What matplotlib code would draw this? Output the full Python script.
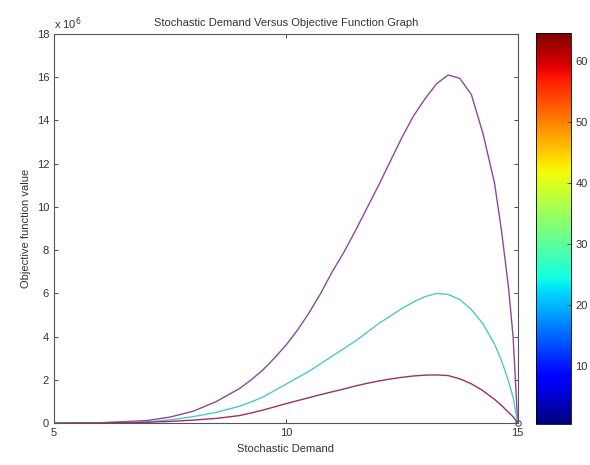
import matplotlib
matplotlib.use("Agg")
import matplotlib.pyplot as plt

plt.rcParams["font.family"] = ["Liberation Sans", "DejaVu Sans"]
plt.rcParams["font.size"] = 8

# stochastic demand (x) and objective values in units of 1e6
demand = [5, 6, 7, 7.5, 8, 8.5,
          9, 9.25, 9.5, 9.75, 10, 10.25, 10.5, 10.75, 11, 11.25, 11.5, 11.75,
          12, 12.25, 12.5, 12.75, 13,
          13.25, 13.5, 13.75, 14, 14.25, 14.5, 14.65, 14.8, 14.9, 15]
obj_high = [0.0, 0.02, 0.12, 0.28, 0.55, 1.0,
            1.6, 2.0, 2.45, 3.0, 3.6, 4.3, 5.1, 6.0, 7.0, 7.9, 8.9, 9.95,
            11.0, 12.1, 13.2, 14.2, 15.0,
            15.7, 16.1, 15.95, 15.2, 13.4, 11.1, 8.9, 6.3, 4.0, 0.0]
obj_mid = [0.0, 0.01, 0.06, 0.15, 0.3, 0.5,
           0.78, 0.98, 1.2, 1.5, 1.8, 2.1, 2.4, 2.75, 3.1, 3.45, 3.8, 4.2,
           4.6, 4.95, 5.3, 5.6, 5.85,
           6.0, 5.95, 5.72, 5.25, 4.6, 3.65, 2.9, 1.95, 1.2, 0.0]
obj_low = [0.0, 0.01, 0.04, 0.08, 0.14, 0.22,
           0.35, 0.47, 0.6, 0.75, 0.9, 1.04, 1.18, 1.32, 1.45, 1.58, 1.72, 1.84,
           1.95, 2.04, 2.12, 2.18, 2.22,
           2.23, 2.2, 2.05, 1.82, 1.5, 1.1, 0.82, 0.5, 0.3, 0.0]

fig = plt.figure(figsize=(5.9, 4.65), dpi=100)
ax = fig.add_axes([0.0915, 0.090, 0.786, 0.837])

ax.plot(demand, obj_high, color="#8a4a9a", lw=1.0)
ax.plot(demand, obj_mid, color="#50c8c8", lw=1.0)
ax.plot(demand, obj_low, color="#a03060", lw=1.0)
ax.plot([15], [0], marker="o", ms=4, mfc="none", mec="#555555", mew=0.8, clip_on=False)

ax.set_xlim(5, 15)
ax.set_ylim(0, 18)
ax.set_xticks([5, 10, 15])
ax.set_yticks(range(0, 19, 2))
ax.tick_params(direction="in", top=True, right=True, length=3, width=0.6, colors="#333333")
for s in ax.spines.values():
    s.set_linewidth(0.8)
    s.set_color("#555555")

ax.set_title("Stochastic Demand Versus Objective Function Graph", fontsize=8, color="#333333")
ax.set_xlabel("Stochastic Demand", color="#333333")
ax.set_ylabel("Objective function value", color="#333333")
ax.text(0.0, 1.005, r"x 10$^{6}$", transform=ax.transAxes, fontsize=8, color="#333333",
        ha="left", va="bottom")

cax = fig.add_axes([0.908, 0.088, 0.059, 0.841])
sm = matplotlib.cm.ScalarMappable(cmap="jet", norm=matplotlib.colors.Normalize(0.5, 64.5))
cb = fig.colorbar(sm, cax=cax, ticks=[10, 20, 30, 40, 50, 60])
cb.ax.tick_params(direction="in", length=3, width=0.6, colors="#333333", labelsize=8)
cb.outline.set_linewidth(0.6)

fig.savefig("out.png", dpi=100)
